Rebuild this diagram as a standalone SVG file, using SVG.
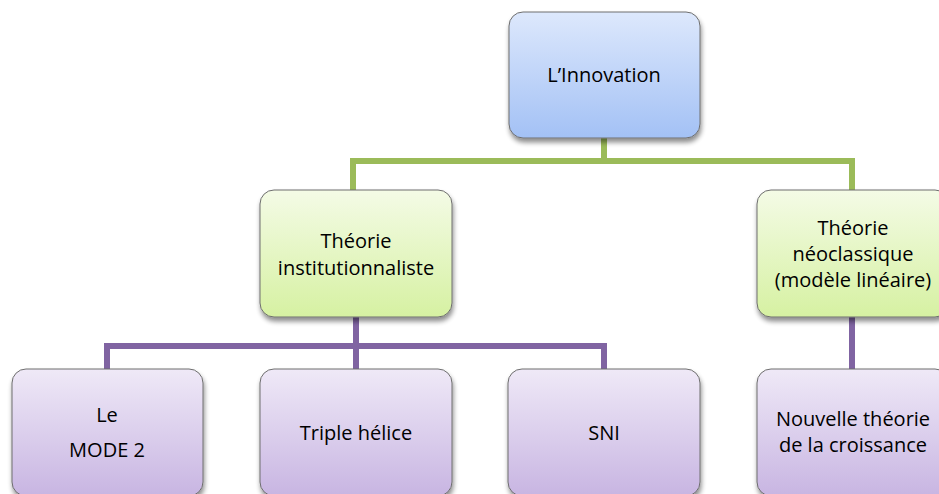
<svg xmlns="http://www.w3.org/2000/svg" width="939" height="494" viewBox="0 0 939 494">
  <defs>
    <linearGradient id="gBlue" x1="0" y1="0" x2="0" y2="1">
      <stop offset="0" stop-color="#dde8fc"/>
      <stop offset="1" stop-color="#a3c1f5"/>
    </linearGradient>
    <linearGradient id="gGreen" x1="0" y1="0" x2="0" y2="1">
      <stop offset="0" stop-color="#f4fbe6"/>
      <stop offset="1" stop-color="#d6f1a2"/>
    </linearGradient>
    <linearGradient id="gPurple" x1="0" y1="0" x2="0" y2="1">
      <stop offset="0" stop-color="#efe9f7"/>
      <stop offset="1" stop-color="#c8b5e2"/>
    </linearGradient>
    <filter id="shadow" x="-10%" y="-10%" width="125%" height="130%">
      <feGaussianBlur in="SourceAlpha" stdDeviation="2.5"/>
      <feOffset dx="1" dy="4" result="b"/>
      <feComponentTransfer><feFuncA type="linear" slope="0.45"/></feComponentTransfer>
      <feMerge><feMergeNode/><feMergeNode in="SourceGraphic"/></feMerge>
    </filter>
  </defs>
  <style>
    .box { stroke: #6e6e6e; stroke-width: 1; filter: url(#shadow); }
    .blue { fill: url(#gBlue); }
    .green { fill: url(#gGreen); }
    .purple { fill: url(#gPurple); }
    .lbl { font-family: "Open Sans", "Noto Sans", "Liberation Sans", sans-serif; font-size: 20px; fill: #000; text-anchor: middle; }
    .green-line { stroke: #9bbb59; stroke-width: 6; fill: none; }
    .purple-line { stroke: #8064a2; stroke-width: 6; fill: none; }
  </style>

  <rect width="939" height="494" fill="#ffffff"/>

  <g id="connectors">
    <path class="green-line" d="M604 138 V161 M353 190 V161 H852 V190"/>
    <path class="purple-line" d="M356 317 V346 M107 370 V346 H604 V370 M356 346 V370"/>
    <path class="purple-line" d="M852 317 V370"/>
  </g>

  <g id="innovation">
    <rect class="box blue" x="509" y="12" width="191" height="126" rx="14"/>
    <text class="lbl" x="604" y="82">L’Innovation</text>
  </g>

  <g id="institutionnaliste">
    <rect class="box green" x="260" y="190" width="192" height="127" rx="14"/>
    <text class="lbl" x="356" y="248">Théorie</text>
    <text class="lbl" x="356" y="275">institutionnaliste</text>
  </g>

  <g id="neoclassique">
    <rect class="box green" x="757" y="190" width="192" height="127" rx="14"/>
    <text class="lbl" x="853" y="235">Théorie</text>
    <text class="lbl" x="853" y="261">néoclassique</text>
    <text class="lbl" x="853" y="287">(modèle linéaire)</text>
  </g>

  <g id="mode2">
    <rect class="box purple" x="12" y="369" width="191" height="127" rx="14"/>
    <text class="lbl" x="107" y="422">Le</text>
    <text class="lbl" x="107" y="457">MODE 2</text>
  </g>

  <g id="triple-helice">
    <rect class="box purple" x="260" y="369" width="192" height="127" rx="14"/>
    <text class="lbl" x="356" y="440">Triple hélice</text>
  </g>

  <g id="sni">
    <rect class="box purple" x="508" y="369" width="192" height="127" rx="14"/>
    <text class="lbl" x="604" y="440">SNI</text>
  </g>

  <g id="nouvelle-theorie">
    <rect class="box purple" x="757" y="369" width="192" height="127" rx="14"/>
    <text class="lbl" x="853" y="426">Nouvelle théorie</text>
    <text class="lbl" x="853" y="452">de la croissance</text>
  </g>
</svg>
